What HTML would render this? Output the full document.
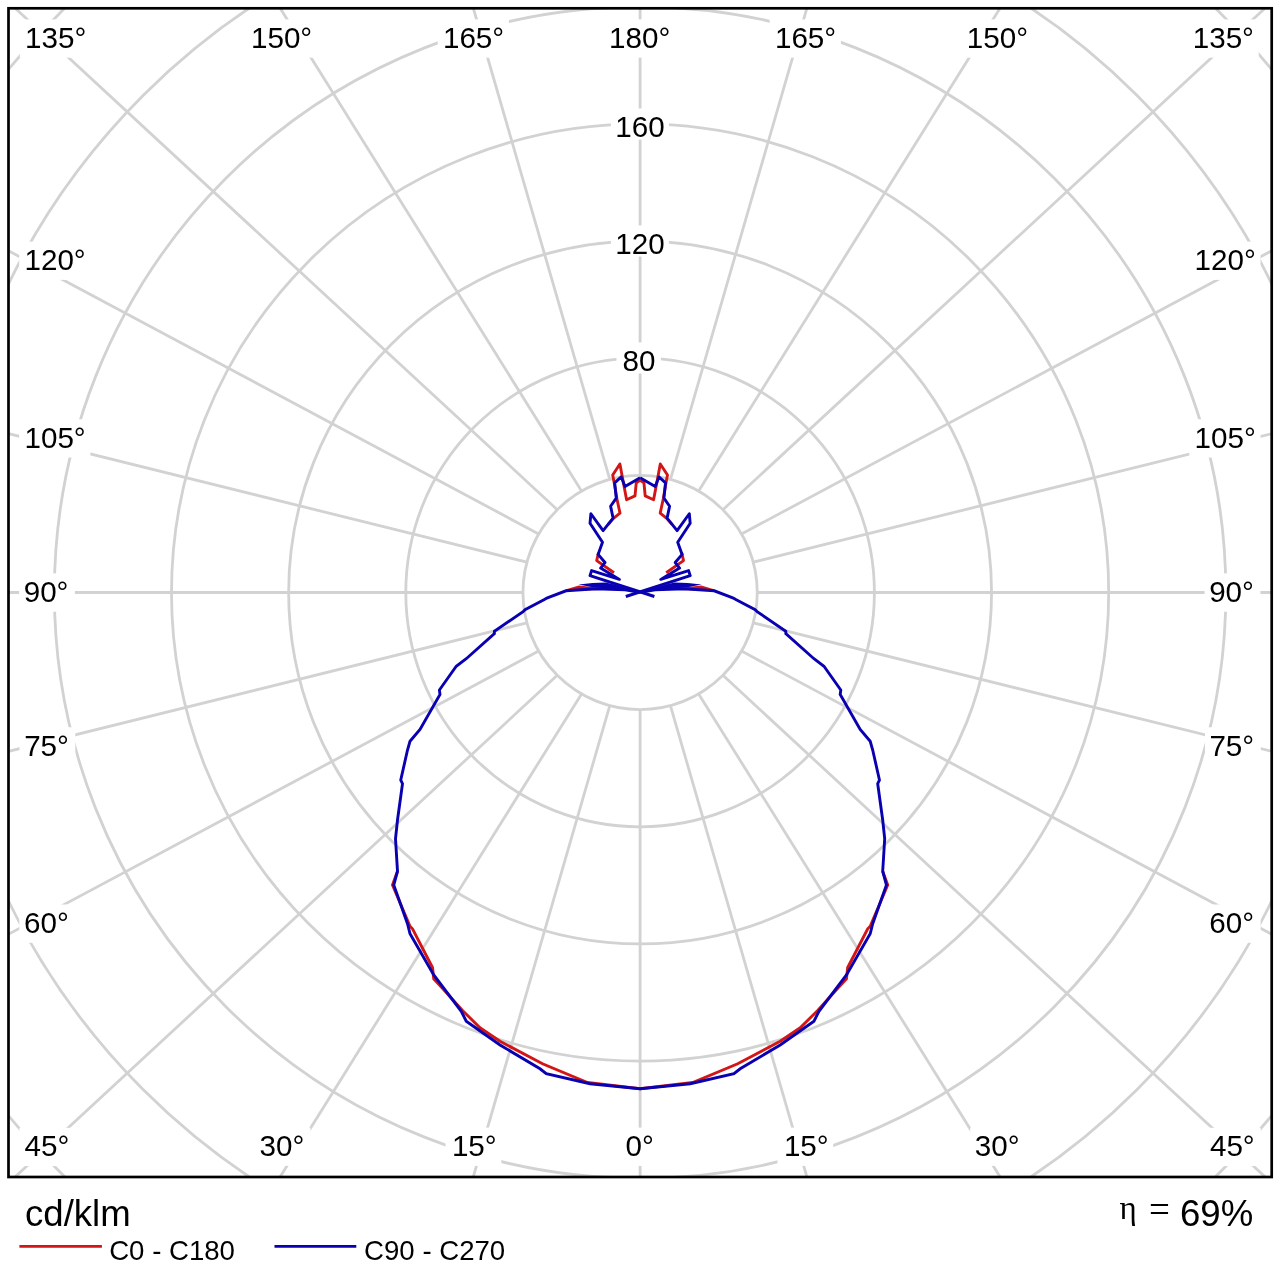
<!DOCTYPE html>
<html><head><meta charset="utf-8"><title>Polar intensity diagram</title>
<style>html,body{margin:0;padding:0;background:#fff}svg{display:block;will-change:transform}text{font-family:"Liberation Sans",sans-serif;fill:#000}.s{font-family:"Liberation Serif",serif}</style></head><body>
<svg width="1280" height="1280" viewBox="0 0 1280 1280">
<rect x="0" y="0" width="1280" height="1280" fill="#fff"/>
<defs><clipPath id="box"><rect x="8.5" y="8.3" width="1263.2" height="1168.7"/></clipPath></defs>
<g clip-path="url(#box)" fill="none" stroke="#d2d2d2" stroke-width="2.8">
<line x1="640.10" y1="709.65" x2="640.10" y2="1809.65"/>
<line x1="670.42" y1="705.66" x2="978.18" y2="1768.18"/>
<line x1="698.68" y1="693.95" x2="1293.22" y2="1646.58"/>
<line x1="722.94" y1="675.34" x2="1563.76" y2="1453.16"/>
<line x1="741.55" y1="651.08" x2="1771.35" y2="1201.08"/>
<line x1="753.26" y1="622.82" x2="1901.84" y2="907.52"/>
<line x1="757.25" y1="592.50" x2="1946.35" y2="592.50"/>
<line x1="753.26" y1="562.18" x2="1901.84" y2="277.48"/>
<line x1="741.55" y1="533.93" x2="1771.35" y2="-16.07"/>
<line x1="722.94" y1="509.66" x2="1563.76" y2="-268.16"/>
<line x1="698.68" y1="491.05" x2="1293.22" y2="-461.58"/>
<line x1="670.42" y1="479.34" x2="978.18" y2="-583.18"/>
<line x1="640.10" y1="475.35" x2="640.10" y2="-624.65"/>
<line x1="609.78" y1="479.34" x2="302.02" y2="-583.18"/>
<line x1="581.52" y1="491.05" x2="-13.03" y2="-461.58"/>
<line x1="557.26" y1="509.66" x2="-283.56" y2="-268.16"/>
<line x1="538.65" y1="533.92" x2="-491.15" y2="-16.08"/>
<line x1="526.94" y1="562.18" x2="-621.64" y2="277.48"/>
<line x1="522.95" y1="592.50" x2="-666.15" y2="592.50"/>
<line x1="526.94" y1="622.82" x2="-621.64" y2="907.52"/>
<line x1="538.65" y1="651.08" x2="-491.15" y2="1201.08"/>
<line x1="557.26" y1="675.34" x2="-283.56" y2="1453.16"/>
<line x1="581.52" y1="693.95" x2="-13.03" y2="1646.58"/>
<line x1="609.78" y1="705.66" x2="302.02" y2="1768.18"/>
<circle cx="640.1" cy="592.5" r="117.15"/>
<circle cx="640.1" cy="592.5" r="234.30"/>
<circle cx="640.1" cy="592.5" r="351.45"/>
<circle cx="640.1" cy="592.5" r="468.60"/>
<circle cx="640.1" cy="592.5" r="585.75"/>
<circle cx="640.1" cy="592.5" r="702.90"/>
<circle cx="640.1" cy="592.5" r="820.05"/>
</g>
<g fill="#fff" stroke="none">
<rect x="19.8" y="19.4" width="71.2" height="38.3"/>
<rect x="245.6" y="19.4" width="71.2" height="38.3"/>
<rect x="437.7" y="19.4" width="71.2" height="38.3"/>
<rect x="603.9" y="19.4" width="71.2" height="38.3"/>
<rect x="769.7" y="19.4" width="71.2" height="38.3"/>
<rect x="961.5" y="19.4" width="71.2" height="38.3"/>
<rect x="1187.5" y="19.4" width="71.2" height="38.3"/>
<rect x="19.2" y="241.6" width="71.2" height="38.3"/>
<rect x="19.2" y="419.3" width="71.2" height="38.3"/>
<rect x="19.1" y="573.4" width="55.8" height="38.3"/>
<rect x="19.5" y="727.3" width="55.8" height="38.3"/>
<rect x="19.3" y="904.5" width="55.8" height="38.3"/>
<rect x="19.4" y="1127.8" width="55.8" height="38.3"/>
<rect x="1189.3" y="241.6" width="71.2" height="38.3"/>
<rect x="1189.3" y="419.3" width="71.2" height="38.3"/>
<rect x="1204.6" y="573.4" width="55.8" height="38.3"/>
<rect x="1205.0" y="727.3" width="55.8" height="38.3"/>
<rect x="1204.8" y="904.5" width="55.8" height="38.3"/>
<rect x="1204.9" y="1127.8" width="55.8" height="38.3"/>
<rect x="254.7" y="1127.6" width="55.8" height="38.3"/>
<rect x="445.5" y="1127.6" width="55.8" height="38.3"/>
<rect x="620.5" y="1127.6" width="40.6" height="38.3"/>
<rect x="777.5" y="1127.6" width="55.8" height="38.3"/>
<rect x="970.2" y="1127.6" width="55.8" height="38.3"/>
<rect x="610.9" y="108.5" width="58.0" height="31.1"/>
<rect x="610.9" y="225.4" width="58.0" height="31.1"/>
<rect x="616.5" y="342.4" width="44.4" height="31.1"/>
</g>
<g font-size="29.6">
<text id="L0" x="25.08" y="48.00">135°</text>
<text id="L1" x="250.99" y="48.00">150°</text>
<text id="L2" x="442.94" y="48.00">165°</text>
<text id="L3" x="609.06" y="48.00">180°</text>
<text id="L4" x="774.94" y="48.00">165°</text>
<text id="L5" x="966.75" y="48.00">150°</text>
<text id="L6" x="1192.73" y="48.00">135°</text>
<text id="L7" x="24.48" y="270.00">120°</text>
<text id="L8" x="24.48" y="448.00">105°</text>
<text id="L9" x="23.69" y="602.00">90°</text>
<text id="L10" x="24.14" y="756.00">75°</text>
<text id="L11" x="24.06" y="933.00">60°</text>
<text id="L12" x="24.47" y="1156.00">45°</text>
<text id="L13" x="1194.52" y="270.00">120°</text>
<text id="L14" x="1194.52" y="448.00">105°</text>
<text id="L15" x="1209.13" y="602.00">90°</text>
<text id="L16" x="1209.42" y="756.00">75°</text>
<text id="L17" x="1209.32" y="933.00">60°</text>
<text id="L18" x="1209.93" y="1156.00">45°</text>
<text id="L19" x="259.49" y="1156.00">30°</text>
<text id="L20" x="451.90" y="1156.00">15°</text>
<text id="L21" x="625.44" y="1156.00">0°</text>
<text id="L22" x="783.90" y="1156.00">15°</text>
<text id="L23" x="974.73" y="1156.00">30°</text>
<text id="L24" x="615.31" y="137.00">160</text>
<text id="L25" x="615.31" y="254.00">120</text>
<text id="L26" x="622.59" y="371.00">80</text>
</g>
<g>
<polygon points="565.40,589.50 578.90,585.60 592.50,586.90 605.60,588.20 605.60,589.80 568.10,591.00" fill="#d21616" stroke="none"/>
<polygon points="714.80,589.50 701.30,585.60 687.70,586.90 674.60,588.20 674.60,589.80 712.10,591.00" fill="#d21616" stroke="none"/>
<polyline points="397.50,871.25 392.50,885.00 410.00,926.25 412.50,928.75 432.50,967.50 433.75,978.75 442.00,987.80 462.50,1010.50 480.00,1027.80 500.00,1041.25 542.50,1063.80 587.50,1082.50 640.10,1088.75 692.70,1082.50 737.70,1063.80 780.20,1041.25 800.20,1027.80 817.70,1010.50 838.20,987.80 846.45,978.75 847.70,967.50 867.70,928.75 870.20,926.25 887.70,885.00 882.70,871.25" fill="none" stroke="#d21616" stroke-width="2.9" stroke-linejoin="miter" stroke-miterlimit="5"/>
<polyline points="640.10,480.30 636.25,482.80 635.00,495.90 626.60,499.70 619.90,464.00 612.70,475.00 614.25,483.10 616.90,498.75 620.00,513.10 613.75,518.10 608.00,524.60" fill="none" stroke="#d21616" stroke-width="2.9" stroke-linejoin="round" stroke-miterlimit="5"/>
<polyline points="640.10,480.30 643.95,482.80 645.20,495.90 653.60,499.70 660.30,464.00 667.50,475.00 665.95,483.10 663.30,498.75 660.20,513.10 666.45,518.10 672.20,524.60" fill="none" stroke="#d21616" stroke-width="2.9" stroke-linejoin="round" stroke-miterlimit="5"/>
<polyline points="598.60,552.50 598.10,554.40 596.70,560.60 614.00,572.70" fill="none" stroke="#d21616" stroke-width="2.9" stroke-linejoin="round" stroke-miterlimit="5"/>
<polyline points="681.60,552.50 682.10,554.40 683.50,560.60 666.20,572.70" fill="none" stroke="#d21616" stroke-width="2.9" stroke-linejoin="round" stroke-miterlimit="5"/>
<polygon points="578.60,584.60 592.50,582.90 605.60,582.50 613.10,584.20 639.40,592.20 624.40,589.80 605.60,588.60 592.50,587.30" fill="#0900b2" stroke="none"/>
<polygon points="701.60,584.60 687.70,582.90 674.60,582.50 667.10,584.20 640.80,592.20 655.80,589.80 674.60,588.60 687.70,587.30" fill="#0900b2" stroke="none"/>
<polyline points="640.10,592.30 625.00,589.70 596.00,588.70 566.00,590.80 550.00,596.90 546.90,598.10 544.40,599.60 525.00,609.80 523.10,611.60 494.40,631.25 494.40,633.50 466.25,658.75 456.25,666.25 439.40,690.00 440.00,694.40 420.00,729.40 410.00,741.25 407.50,750.00 400.75,780.00 402.50,783.75 397.50,820.00 395.50,838.75 397.50,871.25 393.75,885.00 407.50,923.75 410.00,933.75 433.75,975.00 461.25,1011.25 466.25,1021.25 500.00,1045.00 540.00,1068.75 546.25,1073.75 590.00,1083.75 640.10,1088.75 690.20,1083.75 733.95,1073.75 740.20,1068.75 780.20,1045.00 813.95,1021.25 818.95,1011.25 846.45,975.00 870.20,933.75 872.70,923.75 886.45,885.00 882.70,871.25 884.70,838.75 882.70,820.00 877.70,783.75 879.45,780.00 872.70,750.00 870.20,741.25 860.20,729.40 840.20,694.40 840.80,690.00 823.95,666.25 813.95,658.75 785.80,633.50 785.80,631.25 757.10,611.60 755.20,609.80 735.80,599.60 733.30,598.10 730.20,596.90 714.20,590.80 684.20,588.70 655.20,589.70 640.10,592.30" fill="none" stroke="#0900b2" stroke-width="2.9" stroke-linejoin="miter" stroke-miterlimit="5"/>
<polyline points="640.10,477.80 625.00,486.60 621.25,476.90 614.70,482.80 616.25,498.10 610.60,506.25 613.10,518.10 603.10,530.60 590.90,513.75 590.00,523.30 602.50,542.20 598.10,554.40 605.00,562.50 600.60,568.10 619.40,579.40 591.60,570.60 590.00,575.60 654.40,596.50" fill="none" stroke="#0900b2" stroke-width="2.9" stroke-linejoin="round" stroke-miterlimit="5"/>
<polyline points="640.10,477.80 655.20,486.60 658.95,476.90 665.50,482.80 663.95,498.10 669.60,506.25 667.10,518.10 677.10,530.60 689.30,513.75 690.20,523.30 677.70,542.20 682.10,554.40 675.20,562.50 679.60,568.10 660.80,579.40 688.60,570.60 690.20,575.60 625.80,596.50" fill="none" stroke="#0900b2" stroke-width="2.9" stroke-linejoin="round" stroke-miterlimit="5"/>
</g>
<rect x="8.5" y="8.3" width="1263.2" height="1168.7" fill="none" stroke="#000" stroke-width="2.7"/>
<text id="T_cd" x="25.00" y="1226.00" font-size="36.6">cd/klm</text>
<line x1="19.4" y1="1246.4" x2="101.9" y2="1246.4" stroke="#d21616" stroke-width="2.9"/>
<text id="T_c0" x="109.20" y="1260.30" font-size="27.6">C0 - C180</text>
<line x1="274.5" y1="1246.4" x2="356.3" y2="1246.4" stroke="#0900b2" stroke-width="2.9"/>
<text id="T_c90" x="364.10" y="1260.30" font-size="27.6">C90 - C270</text>
<text id="T_eta" class="s" x="1119.40" y="1219.00" font-size="33">η</text>
<text id="T_eq" class="s" x="1148.90" y="1222.00" font-size="37">=</text>
<text id="T_pct" x="1180.00" y="1226.20" font-size="36.6">69%</text>
</svg></body></html>
